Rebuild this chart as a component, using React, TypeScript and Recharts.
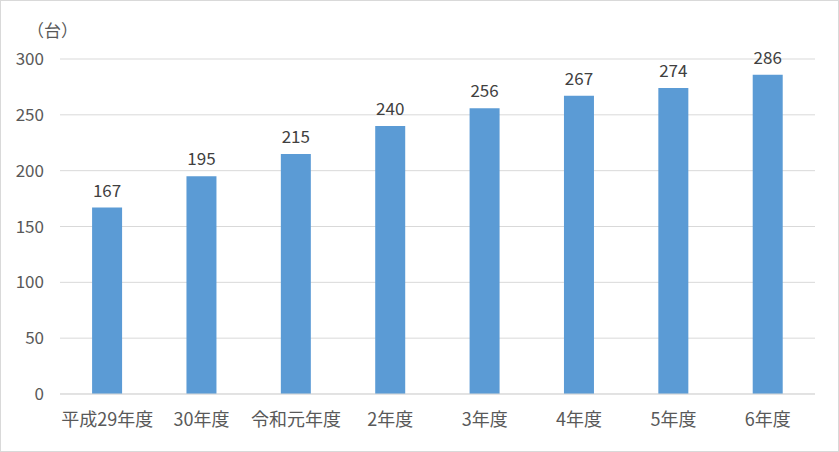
import { BarChart, Bar, XAxis, YAxis, CartesianGrid, LabelList } from 'recharts'

const categories = ['平成29年度', '30年度', '令和元年度', '2年度', '3年度', '4年度', '5年度', '6年度']
const counts = [167, 195, 215, 240, 256, 267, 274, 286]
const yTicks = [0, 50, 100, 150, 200, 250, 300]

const data = categories.map((name, i) => ({ name, value: counts[i] }))

const FONT = '"Noto Sans CJK JP", "Noto Sans", sans-serif'

export default function App() {
  return (
    <div
      style={{
        position: 'fixed',
        top: 0,
        left: 0,
        width: 839,
        height: 452,
        boxSizing: 'border-box',
        border: '1px solid #d9d9d9',
        background: '#fff',
        fontFamily: FONT,
      }}
    >
      <span
        style={{
          position: 'absolute',
          left: 26,
          top: 16,
          fontSize: 17,
          color: '#595959',
        }}
      >
        （台）
      </span>
      <BarChart
        width={837}
        height={450}
        data={data}
        margin={{ top: 58, right: 23, bottom: 0, left: 0 }}
        barCategoryGap="34%"
        style={{ fontFamily: FONT }}
      >
        <CartesianGrid vertical={false} stroke="#d9d9d9" />
        <XAxis
          dataKey="name"
          height={57}
          axisLine={{ stroke: '#d9d9d9' }}
          tickLine={false}
          tickSize={0}
          tickMargin={19}
          tick={{ fill: '#595959', fontSize: 18 }}
          interval={0}
        />
        <YAxis
          width={59}
          domain={[0, 300]}
          ticks={yTicks}
          axisLine={false}
          tickLine={false}
          tickSize={0}
          tickMargin={16}
          tick={{ fill: '#595959', fontSize: 17 }}
        />
        <Bar dataKey="value" fill="#5b9bd5" isAnimationActive={false}>
          <LabelList dataKey="value" position="top" offset={11} fill="#404040" fontSize={17} />
        </Bar>
      </BarChart>
    </div>
  )
}
